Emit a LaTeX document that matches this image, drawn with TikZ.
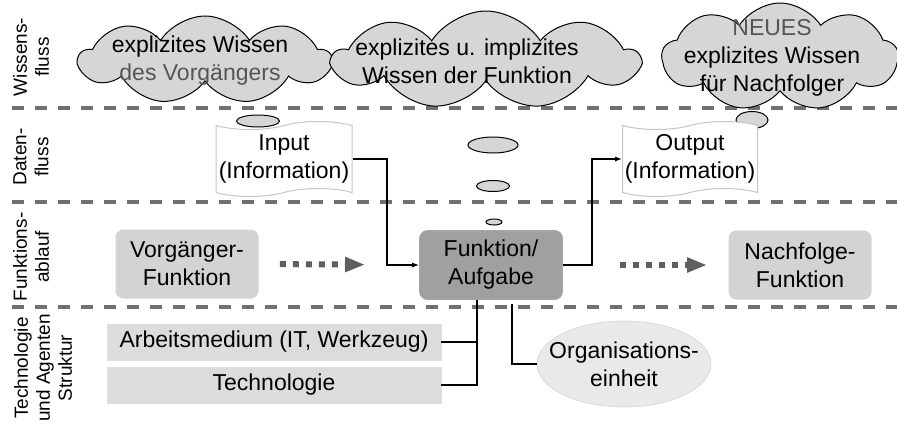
\documentclass[tikz,border=0pt]{standalone}
\usepackage{fontspec}
\setmainfont{Liberation Sans}
\usetikzlibrary{shapes.symbols,shapes.geometric,arrows.meta}

\definecolor{cloudfill}{RGB}{214,214,214}
\definecolor{funkfill}{RGB}{160,160,160}
\definecolor{boxfill}{RGB}{211,211,211}
\definecolor{barfill}{RGB}{220,220,220}
\definecolor{orgfill}{RGB}{233,233,233}
\definecolor{sepgray}{RGB}{112,112,112}
\definecolor{textgray}{RGB}{85,85,85}

\tikzset{
  txt/.style={font=\fontsize{11.5}{14}\selectfont, align=center},
  lane/.style={font=\fontsize{9.5}{11}\selectfont, align=center, rotate=90, inner sep=0pt},
  sepline/.style={line width=2pt, sepgray, dash pattern=on 6pt off 5.5pt},
  wolke/.style={cloud, cloud puffs=9, cloud puff arc=115, cloud ignores aspect, draw=black, line width=0.5pt, fill=cloudfill, inner sep=0pt},
  blase/.style={ellipse, draw=black, line width=0.5pt, fill=cloudfill, inner sep=0pt},
  dokument/.style={tape, draw=gray!45, fill=white, line width=0.5pt, txt, inner sep=0pt, tape bend height=4pt},
  funkbox/.style={rounded corners=4pt, txt, minimum width=71.5pt, minimum height=34.5pt},
  barbox/.style={draw=gray!25, fill=barfill, txt, minimum width=167pt, minimum height=18pt},
  flow/.style={line width=0.6pt, -{Latex[length=3.5pt,width=2.6pt]}},
  link/.style={line width=0.6pt},
  dotarrow/.style={line width=3pt, sepgray!85!black, dash pattern=on 3pt off 3.5pt, -{Triangle[length=10pt,width=7pt]}}
}

\newcommand{\setup}{
    \coordinate (k1) at (387,0);   % knick input
    \coordinate (k2) at (592,0);   % knick output
    \coordinate (j1) at (477,342); % klammer technologie
    \coordinate (j2) at (512,304); % abzweig organisation
}

\begin{document}
\begin{tikzpicture}[x=0.5pt,y=-0.5pt]
  \useasboundingbox (0,0) rectangle (897,423);
  \setup;

  % ebenen
  \draw[sepline] (12,108) -- (897,108);
  \draw[sepline] (12,202) -- (897,202);
  \draw[sepline] (12,307) -- (897,307);

  \node[lane] (l1) at (31,57)  {Wissens-\\fluss};
  \node[lane] (l2) at (31,157) {Daten-\\fluss};
  \node[lane] (l3) at (31,257) {Funktions-\\ablauf};
  \node[lane] (l4) at (43,368) {Technologie\\und Agenten\\Struktur};

  % wissensfluss
  \node[wolke, minimum width=126pt, minimum height=44pt] (w1) at (205,60) {};
  \node[txt] (t1) at (200,61) {explizites Wissen\\\textcolor{textgray}{des Vorgängers}};
  \node[wolke, minimum width=153pt, minimum height=49pt] (w2) at (486,60) {};
  \node[txt] (t2) at (467,61) {explizites u. implizites\\Wissen der Funktion};
  \node[wolke, minimum width=118pt, minimum height=54pt] (w3) at (780,57) {};
  \node[txt] (t3) at (772,58) {\textcolor{textgray}{NEUES}\\explizites Wissen\\für Nachfolger};

  % datenfluss
  \node[blase, minimum width=16pt, minimum height=8.5pt] (b4) at (752,120) {};
  \node[dokument, minimum width=68pt, minimum height=37.5pt] (input) at (284,159) {Input\\(Information)};
  \node[dokument, minimum width=67.5pt, minimum height=37.5pt] (output) at (690,159) {Output\\(Information)};
  \node[blase, minimum width=21.5pt, minimum height=6pt] (b0) at (258,121) {};
  \node[blase, minimum width=25pt, minimum height=8pt] (b1) at (493,145) {};
  \node[blase, minimum width=16.5pt, minimum height=5.5pt] (b2) at (493,186) {};
  \node[blase, minimum width=8pt, minimum height=3pt] (b3) at (494,222) {};

  % funktionsablauf
  \node[funkbox, fill=boxfill] (vorg) at (187,264) {Vorgänger-\\Funktion};
  \node[funkbox, fill=funkfill, draw=gray!70] (funk) at (491,265) {Funktion/\\Aufgabe};
  \node[funkbox, fill=boxfill] (nach) at (800,265) {Nachfolge-\\Funktion};

  \draw[dotarrow, shorten <=10.5pt, shorten >=27pt] (vorg.east) -- (funk.west);
  \draw[dotarrow, shorten <=28.5pt, shorten >=10.5pt] (funk.east) -- (nach.west);

  \draw[flow] (input.east) -| (k1 |- funk.west) -- (funk.west);
  \draw[flow] (funk.east) -| (k2 |- output.west) -- (output.west);

  % technologie und agenten
  \node[barbox] (arb) at (274,342) {Arbeitsmedium (IT, Werkzeug)};
  \node[barbox] (tech) at (274,385) {Technologie};
  \node[ellipse, draw=gray!30, fill=orgfill, minimum width=87pt, minimum height=43pt, inner sep=0pt] (org) at (624,364) {};
  \node[txt] (orgtxt) at (org) {Organisations-\\einheit};

  \draw[link] (funk.south -| j1) -- (j1);
  \draw[link] (arb.east) -| (j1) |- (tech.east);
  \draw[link] (j2) |- (org.west);
\end{tikzpicture}
\end{document}
